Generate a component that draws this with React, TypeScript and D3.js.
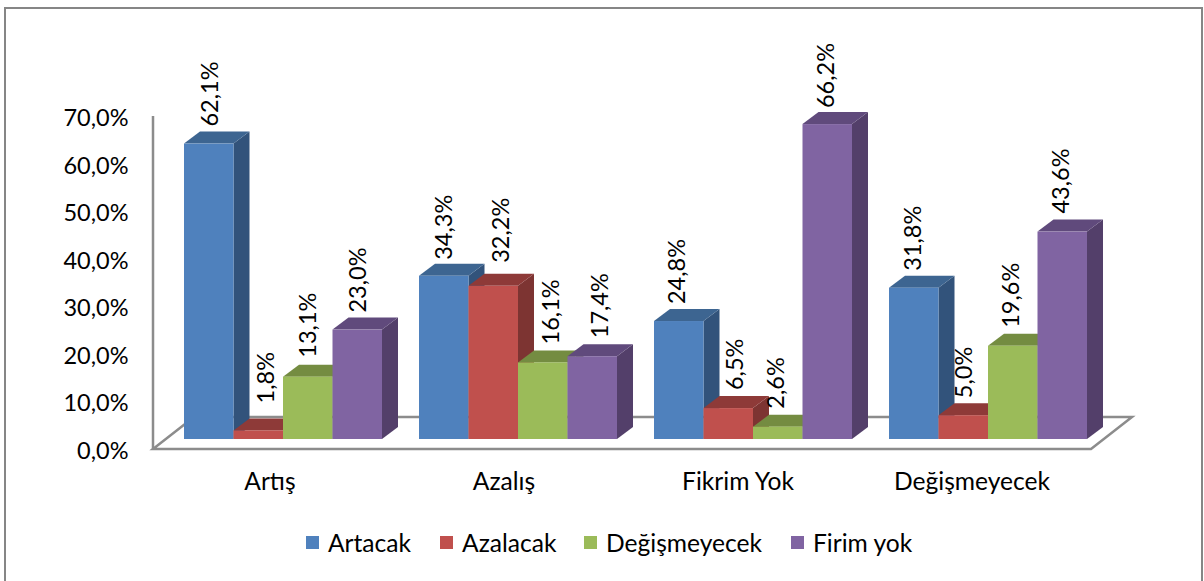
import * as d3 from "d3";

const categories = ["Artış", "Azalış", "Fikrim Yok", "Değişmeyecek"];
const seriesNames = ["Artacak", "Azalacak", "Değişmeyecek", "Firim yok"];
const artacak = [62.1, 34.3, 24.8, 31.8];
const azalacak = [1.8, 32.2, 6.5, 5.0];
const degismeyecek = [13.1, 16.1, 2.6, 19.6];
const firimYok = [23.0, 17.4, 66.2, 43.6];
const tickValues = [0, 10, 20, 30, 40, 50, 60, 70];
const frontColors = ["#4f81bd", "#c0504d", "#9bbb59", "#8064a2"];
const topColors = ["#3d6591", "#8e3a38", "#748c41", "#604a7c"];
const sideColors = ["#32537b", "#7d3432", "#657c3a", "#533f6a"];
const legendX = [306, 440, 584, 791];

// data labels that were moved by hand in the original, [series][category]
const labelNudgeX = [
  [1, 0, -2, -1],
  [7, 7, 6, 0],
  [0, 8, -2, -2],
  [0, 7, -2, -2],
];
const labelNudgeY = [
  [0, 1, 0, 0],
  [-10, -6, -1, 0],
  [-2, -1, -1, -1],
  [0, -1, 1, -1],
];

const width = 1204;
const height = 581;
const depthX = 16;
const depthY = 12;
const font = "Lato, sans-serif";
const axisColor = "#8c8c8c";

const allSeries = [artacak, azalacak, degismeyecek, firimYok];
const formatPct = (v: number) => `${v.toFixed(1).replace(".", ",")}%`;

const y = d3.scaleLinear().domain([0, 70]).range([449, 116]);
const labelX = d3.scaleBand<string>().domain(categories).range([153, 1089]);
const groupX = d3.scaleBand<string>().domain(categories).range([165.4, 1105.4]);
const barX = d3.scaleBand<number>().domain([0, 1, 2, 3]).range([18.6, 216.6]);
const baseY = y(0) - 10;

function Bar({ x0, w, value, i }: { x0: number; w: number; value: number; i: number }) {
  const top = baseY - (y(0) - y(value));
  const x1 = x0 + w;
  const dx = depthX;
  const dy = depthY;
  return (
    <g>
      <path d={`M${x1},${top}L${x1 + dx},${top - dy}L${x1 + dx},${baseY - dy}L${x1},${baseY}Z`} fill={sideColors[i]} />
      <path d={`M${x0},${top}L${x0 + dx},${top - dy}L${x1 + dx},${top - dy}L${x1},${top}Z`} fill={topColors[i]} />
      <rect x={x0} y={top} width={w} height={baseY - top} fill={frontColors[i]} />
    </g>
  );
}

export default function App() {
  const floor = `M153,449L194,417L1132,417L1091,449Z`;
  return (
    <svg
      width={width}
      height={height}
      style={{ position: "absolute", left: 0, top: 0, display: "block", background: "#fff" }}
      fontFamily={font}
    >
      <rect x={5} y={8} width={1197} height={600} fill="#fff" stroke="#868686" strokeWidth={2} />

      <path d={floor} fill="#fff" stroke={axisColor} strokeWidth={2.5} />
      <line x1={153} x2={153} y1={y(70)} y2={y(0)} stroke={axisColor} strokeWidth={2.5} />

      {tickValues.map((t) => (
        <text key={t} x={128.5} y={y(t) + 1.5} dy="0.36em" textAnchor="end" fontSize={23.5} fill="#000">
          {formatPct(t)}
        </text>
      ))}

      {categories.map((c, ci) => (
        <g key={c}>
          {allSeries.map((s, i) => (
            <Bar
              key={i}
              x0={(groupX(c) as number) + (barX(i) as number)}
              w={barX.bandwidth()}
              value={s[ci]}
              i={i}
            />
          ))}
        </g>
      ))}

      {categories.map((c, ci) =>
        allSeries.map((s, i) => {
          const cx = (groupX(c) as number) + (barX(i) as number) + barX.bandwidth() / 2 + labelNudgeX[i][ci];
          const ty = baseY - (y(0) - y(s[ci])) - depthY - 5 + labelNudgeY[i][ci];
          return (
            <text
              key={`${c}-${i}`}
              transform={`translate(${cx},${ty}) rotate(-90)`}
              dy="0.36em"
              fontSize={23.5}
              fill="#000"
            >
              {formatPct(s[ci])}
            </text>
          );
        })
      )}

      {categories.map((c) => (
        <text
          key={c}
          x={(labelX(c) as number) + labelX.bandwidth() / 2}
          y={481.5}
          dy="0.36em"
          textAnchor="middle"
          fontSize={24.6}
          fill="#000"
        >
          {c}
        </text>
      ))}

      {seriesNames.map((name, i) => (
        <g key={name}>
          <rect x={legendX[i]} y={536} width={13} height={13} fill={frontColors[i]} />
          <text x={legendX[i] + 22} y={543} dy="0.36em" fontSize={24.6} fill="#000">
            {name}
          </text>
        </g>
      ))}
    </svg>
  );
}
